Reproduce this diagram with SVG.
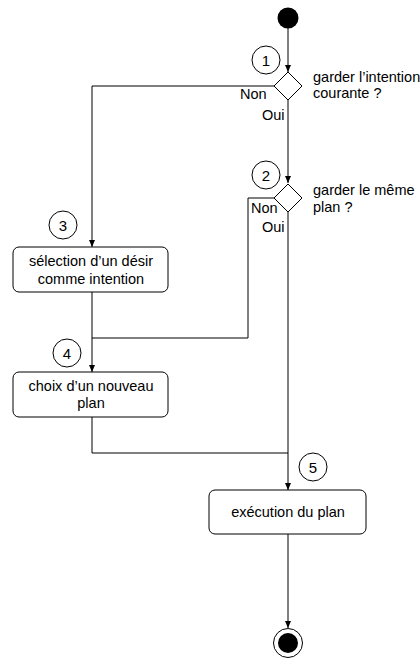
<svg xmlns="http://www.w3.org/2000/svg" width="420" height="660" viewBox="0 0 420 660">
<defs>
<marker id="arr" markerWidth="8" markerHeight="8" refX="7" refY="4" orient="auto" markerUnits="userSpaceOnUse">
<path d="M0,1 L7,4 L0,7 Z" fill="#000"/>
</marker>
</defs>
<style>
text{font-family:"Liberation Sans",Arial,sans-serif;font-size:14.5px;fill:#000}
.c{text-anchor:middle}
.n{font-size:15px}
.box{fill:#fff;stroke:#000;stroke-width:1}
.num{fill:#fff;stroke:#000;stroke-width:1}
.ln{fill:none;stroke:#000;stroke-width:1}
</style>
<rect width="420" height="660" fill="#fff"/>
<g id="connectors">
<path class="ln" d="M288,28 V72" marker-end="url(#arr)"/>
<path class="ln" d="M274,86 H92 V247" marker-end="url(#arr)"/>
<path class="ln" d="M288,100 V183" marker-end="url(#arr)"/>
<path class="ln" d="M274,198 H248 V338 H92"/>
<path class="ln" d="M92,292 V372" marker-end="url(#arr)"/>
<path class="ln" d="M288,212 V490" marker-end="url(#arr)"/>
<path class="ln" d="M92,417 V453 H288"/>
<path class="ln" d="M288,534 V628" marker-end="url(#arr)"/>
</g>
<g id="start"><circle cx="288" cy="18" r="10.5" fill="#000"/></g>
<g id="decision1">
<path class="box" d="M288,72 L302,86 L288,100 L274,86 Z"/>
<text x="313" y="82">garder l’intention</text>
<text x="313" y="98">courante ?</text>
<text x="240" y="99">Non</text>
<text x="262" y="120">Oui</text>
</g>
<g id="n1"><circle class="num" cx="266" cy="60" r="14"/><text class="c n" x="266" y="65.5">1</text></g>
<g id="decision2">
<path class="box" d="M288,184 L302,198 L288,212 L274,198 Z"/>
<text x="313" y="195">garder le même</text>
<text x="313" y="212">plan ?</text>
<text x="251" y="213">Non</text>
<text x="262" y="232">Oui</text>
</g>
<g id="n2"><circle class="num" cx="266" cy="175" r="14"/><text class="c n" x="266" y="180.5">2</text></g>
<g id="act3">
<rect class="box" x="13" y="247" width="155" height="45" rx="6"/>
<text class="c" x="91" y="266">sélection d’un désir</text>
<text class="c" x="91" y="284">comme intention</text>
</g>
<g id="n3"><circle class="num" cx="63" cy="225" r="14"/><text class="c n" x="63" y="230.5">3</text></g>
<g id="act4">
<rect class="box" x="13" y="372" width="155" height="45" rx="6"/>
<text class="c" x="91" y="391">choix d’un nouveau</text>
<text class="c" x="91" y="408">plan</text>
</g>
<g id="n4"><circle class="num" cx="67" cy="353" r="14"/><text class="c n" x="67" y="358.5">4</text></g>
<g id="act5">
<rect class="box" x="209" y="490" width="157" height="44" rx="6"/>
<text class="c" x="288" y="517">exécution du plan</text>
</g>
<g id="n5"><circle class="num" cx="313" cy="467" r="14"/><text class="c n" x="313" y="472.5">5</text></g>
<g id="end">
<circle cx="288" cy="643" r="14.5" fill="#fff" stroke="#000" stroke-width="1"/>
<circle cx="288" cy="643" r="10" fill="#000"/>
</g>
</svg>
